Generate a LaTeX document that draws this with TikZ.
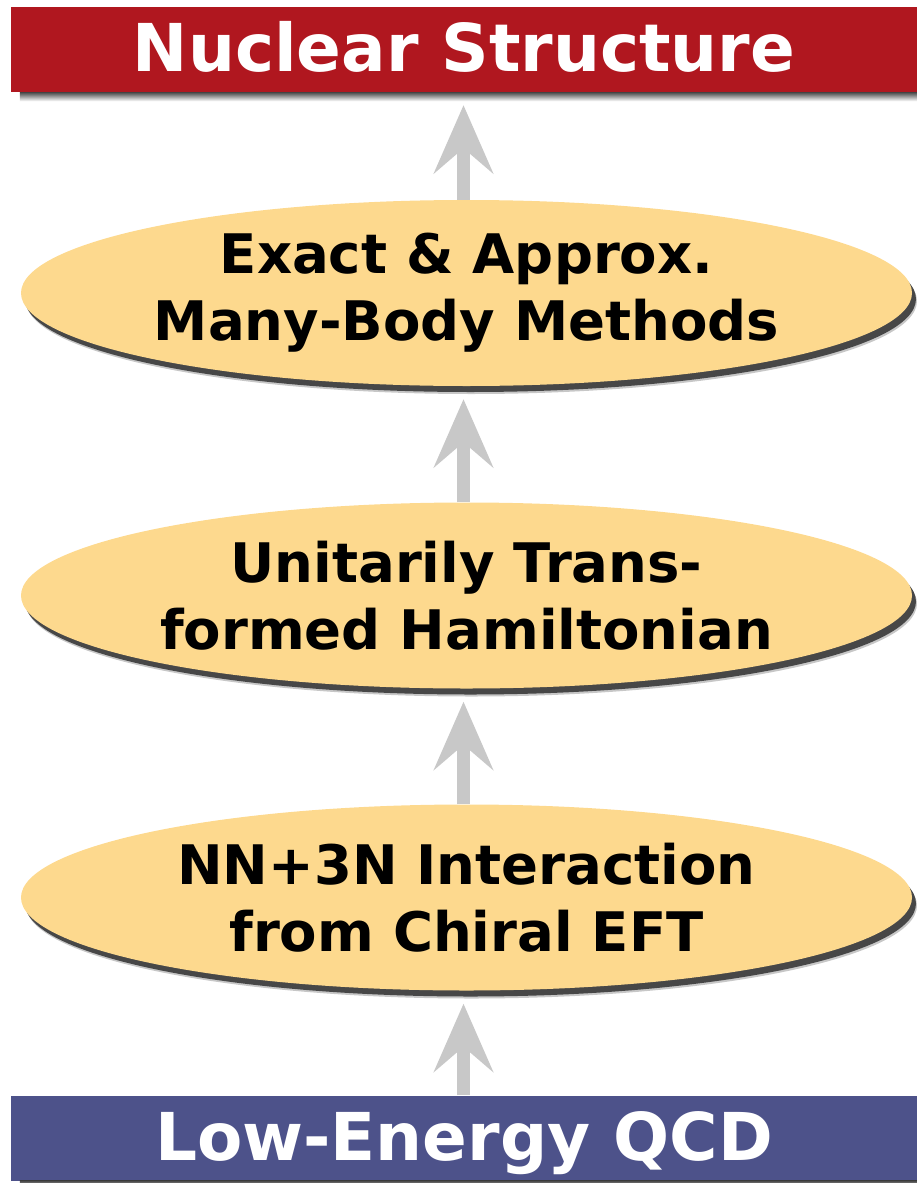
\documentclass[tikz,border=0pt]{standalone}
\usepackage{fontspec}
\setmainfont{DejaVu Sans}
\usetikzlibrary{shapes.geometric,shadows,arrows.meta}

\definecolor{barred}{RGB}{176,23,31}
\definecolor{barblue}{RGB}{77,82,138}
\definecolor{layerfill}{RGB}{253,217,142}
\definecolor{arrowgray}{RGB}{200,200,200}

\begin{document}
\begin{tikzpicture}[x=1pt,y=-1pt,
  bar/.style={rectangle, inner sep=0pt, minimum width=906pt, minimum height=85pt,
    text=white, text height=44pt, text depth=0pt,
    font=\fontsize{66}{79}\selectfont\bfseries},
  barshade/.style={top color=black!72, bottom color=white, draw=none},
  layer/.style={ellipse, fill=layerfill, inner xsep=-40pt, inner ysep=0pt,
    minimum width=891pt, minimum height=186pt, align=center,
    font=\fontsize{54.5}{67}\selectfont\bfseries,
    general shadow={fill=black!22, shadow xshift=5pt, shadow yshift=-8pt},
    general shadow={fill=black!72, shadow xshift=4pt, shadow yshift=-6pt}},
  up/.style={draw=arrowgray, line width=13pt,
    -{Stealth[length=68pt, width=59pt, inset=25pt, fill=arrowgray]}}]

\useasboundingbox (0,0) rectangle (917,1183);

% levels of the hierarchy, bottom to top
\node[bar, fill=barblue] (qcd) at (464,1138) {Low-Energy QCD};
\node[layer] (eft) at (466.5,897.5) {NN+3N Interaction\\from Chiral EFT};
\node[layer] (srg) at (466.5,595.5) {Unitarily Trans-\\formed Hamiltonian};
\node[layer] (mb)  at (466.5,293) {Exact \& Approx.\\Many-Body Methods};
\node[bar, fill=barred] (nuc) at (464,49.5) {Nuclear Structure};

% soft shadows under the two bars
\shade[barshade] ([xshift=9pt]nuc.south west) rectangle ([yshift=-9pt]nuc.south east);
\shade[barshade] ([xshift=9pt]qcd.south west) rectangle ([yshift=-9pt]qcd.south east);

% upward arrows between the levels
\draw[up] ([xshift=-0.5pt]qcd.north) -- ([xshift=-3pt,yshift=-13pt]eft.south);
\draw[up] ([xshift=-3pt]eft.north) -- ([xshift=-3pt,yshift=-13pt]srg.south);
\draw[up] ([xshift=-3pt]srg.north) -- ([xshift=-3pt,yshift=-13pt]mb.south);
\draw[up] ([xshift=-3pt]mb.north) -- ([xshift=-0.5pt,yshift=-13pt]nuc.south);
\end{tikzpicture}
\end{document}
